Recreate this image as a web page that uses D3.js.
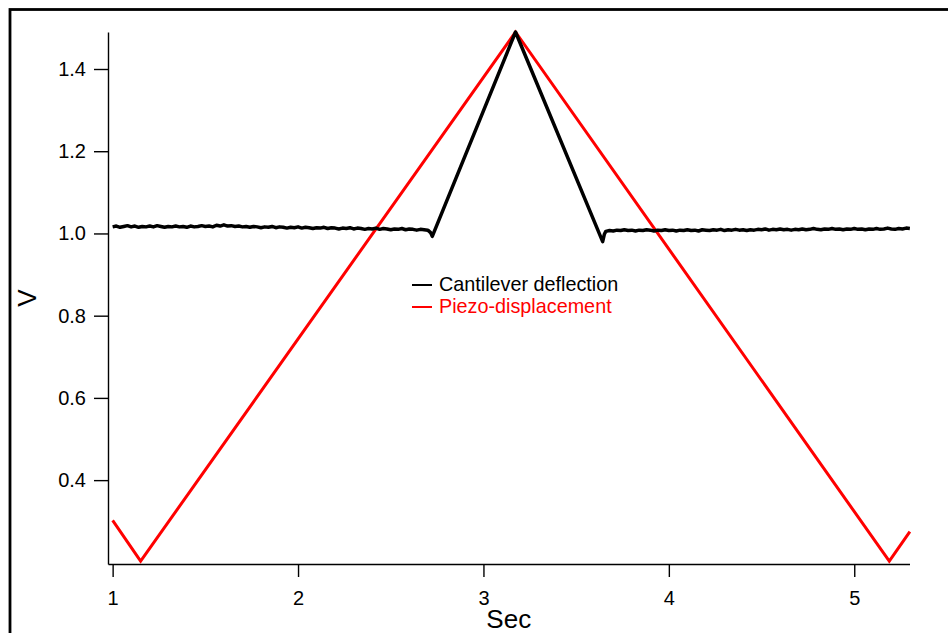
<!DOCTYPE html>
<html>
<head>
<meta charset="utf-8">
<script src="https://cdn.jsdelivr.net/npm/d3@7"></script>
<style>
  html, body { margin: 0; padding: 0; background: #fff; }
  svg { display: block; }
</style>
</head>
<body>
<svg id="chart"></svg>
<script>
// Data
let xTicks = [1, 2, 3, 4, 5];
let yTicks = [0.4, 0.6, 0.8, 1.0, 1.2, 1.4];

let seriesNames = ["Cantilever deflection", "Piezo-displacement"];

// piezo ramp: corners of the triangle wave [sec, V]
let piezo = [
  [1.000, 0.302], [1.151, 0.203], [3.173, 1.490], [5.189, 0.203], [5.300, 0.275]
];

// cantilever deflection: flat noisy part before contact
let deflectionBefore = [
  [1.00, 1.016], [1.02, 1.018], [1.04, 1.015], [1.06, 1.017], [1.08, 1.019],
  [1.10, 1.016], [1.12, 1.018], [1.14, 1.015], [1.16, 1.017], [1.18, 1.016],
  [1.20, 1.018], [1.22, 1.016], [1.24, 1.019], [1.26, 1.017], [1.28, 1.015],
  [1.30, 1.017], [1.32, 1.016], [1.34, 1.018], [1.36, 1.016], [1.38, 1.017],
  [1.40, 1.015], [1.42, 1.018], [1.44, 1.016], [1.46, 1.017], [1.48, 1.019],
  [1.50, 1.017], [1.52, 1.018], [1.54, 1.016], [1.56, 1.020], [1.58, 1.018],
  [1.60, 1.021], [1.62, 1.018], [1.64, 1.019], [1.66, 1.017], [1.68, 1.018],
  [1.70, 1.016], [1.72, 1.017], [1.74, 1.015], [1.76, 1.017], [1.78, 1.016],
  [1.80, 1.014], [1.82, 1.016], [1.84, 1.015], [1.86, 1.017], [1.88, 1.014],
  [1.90, 1.016], [1.92, 1.015], [1.94, 1.013], [1.96, 1.015], [1.98, 1.014],
  [2.00, 1.016], [2.02, 1.013], [2.04, 1.015], [2.06, 1.014], [2.08, 1.012],
  [2.10, 1.014], [2.12, 1.013], [2.14, 1.015], [2.16, 1.012], [2.18, 1.014],
  [2.20, 1.013], [2.22, 1.011], [2.24, 1.013], [2.26, 1.012], [2.28, 1.014],
  [2.30, 1.011], [2.32, 1.013], [2.34, 1.012], [2.36, 1.010], [2.38, 1.012],
  [2.40, 1.011], [2.42, 1.013], [2.44, 1.010], [2.46, 1.012], [2.48, 1.011],
  [2.50, 1.009], [2.52, 1.011], [2.54, 1.010], [2.56, 1.012], [2.58, 1.009],
  [2.60, 1.011], [2.62, 1.010], [2.64, 1.008], [2.66, 1.010], [2.68, 1.009],
  [2.70, 1.008], [2.715, 1.002], [2.724, 0.993]
];

// contact: up to the turning point and back down
let deflectionContact = [
  [2.724, 0.993], [3.173, 1.490], [3.643, 0.980]
];

// flat noisy part after release
let deflectionAfter = [
  [3.643, 0.980], [3.652, 0.998], [3.66, 1.005], [3.68, 1.007],
  [3.70, 1.006], [3.72, 1.008], [3.74, 1.007], [3.76, 1.009], [3.78, 1.007],
  [3.80, 1.008], [3.82, 1.006], [3.84, 1.008], [3.86, 1.007], [3.88, 1.009],
  [3.90, 1.008], [3.92, 1.006], [3.94, 1.008], [3.96, 1.007], [3.98, 1.009],
  [4.00, 1.007], [4.02, 1.008], [4.04, 1.006], [4.06, 1.008], [4.08, 1.007],
  [4.10, 1.009], [4.12, 1.007], [4.14, 1.008], [4.16, 1.006], [4.18, 1.009],
  [4.20, 1.008], [4.22, 1.007], [4.24, 1.009], [4.26, 1.008], [4.28, 1.010],
  [4.30, 1.007], [4.32, 1.009], [4.34, 1.008], [4.36, 1.010], [4.38, 1.008],
  [4.40, 1.009], [4.42, 1.007], [4.44, 1.009], [4.46, 1.008], [4.48, 1.010],
  [4.50, 1.009], [4.52, 1.011], [4.54, 1.008], [4.56, 1.010], [4.58, 1.009],
  [4.60, 1.011], [4.62, 1.009], [4.64, 1.010], [4.66, 1.008], [4.68, 1.010],
  [4.70, 1.009], [4.72, 1.011], [4.74, 1.009], [4.76, 1.010], [4.78, 1.012],
  [4.80, 1.010], [4.82, 1.009], [4.84, 1.011], [4.86, 1.010], [4.88, 1.012],
  [4.90, 1.010], [4.92, 1.011], [4.94, 1.009], [4.96, 1.011], [4.98, 1.010],
  [5.00, 1.012], [5.02, 1.010], [5.04, 1.011], [5.06, 1.009], [5.08, 1.011],
  [5.10, 1.010], [5.12, 1.012], [5.14, 1.010], [5.16, 1.011], [5.18, 1.013],
  [5.20, 1.011], [5.22, 1.010], [5.24, 1.012], [5.26, 1.011], [5.28, 1.013],
  [5.30, 1.012]
];

let deflection = deflectionBefore
  .concat(deflectionContact.slice(1))
  .concat(deflectionAfter.slice(1));

// Layout
let width = 948, height = 633;
let margin = { top: 32, right: 38.5, bottom: 69, left: 108 };
let font = "'Liberation Sans', Arial, sans-serif";

let svg = d3.select("#chart")
  .attr("width", width)
  .attr("height", height)
  .attr("viewBox", [0, 0, width, height]);

// Outer frame (its right/bottom edges run off the page)
svg.append("rect")
  .attr("x", 10)
  .attr("y", 9.5)
  .attr("width", 1200)
  .attr("height", 900)
  .attr("fill", "none")
  .attr("stroke", "#000")
  .attr("stroke-width", 2.8);

// Scales
let xScale = d3.scaleLinear()
  .domain([0.975, 5.298])
  .range([margin.left, width - margin.right]);

let yScale = d3.scaleLinear()
  .domain([0.196, 1.49])
  .range([height - margin.bottom, margin.top]);

// Axes
let xAxis = d3.axisBottom(xScale)
  .tickValues(xTicks)
  .tickFormat(d3.format("d"))
  .tickSize(13)
  .tickSizeOuter(0)
  .tickPadding(14);

let yAxis = d3.axisLeft(yScale)
  .tickValues(yTicks)
  .tickFormat(d3.format(".1f"))
  .tickSize(14)
  .tickSizeOuter(0)
  .tickPadding(8);

let gx = svg.append("g")
  .attr("transform", `translate(0,${height - margin.bottom})`)
  .call(xAxis);

let gy = svg.append("g")
  .attr("transform", `translate(${margin.left},0)`)
  .call(yAxis);

[gx, gy].forEach(g => {
  g.attr("font-family", font).attr("font-size", 20);
  g.selectAll("text").attr("fill", "#000");
  g.selectAll(".tick line").attr("stroke", "#000").attr("stroke-width", 1.4);
  g.select("path.domain").attr("stroke", "#000").attr("stroke-width", 1.4);
});

// Axis titles
svg.append("text")
  .attr("x", (margin.left + width - margin.right) / 2)
  .attr("y", 628)
  .attr("text-anchor", "middle")
  .style("font-family", font)
  .style("font-size", "26px")
  .text("Sec");

svg.append("text")
  .attr("transform", "rotate(-90)")
  .attr("x", -(margin.top + height - margin.bottom) / 2)
  .attr("y", 36)
  .attr("text-anchor", "middle")
  .style("font-family", font)
  .style("font-size", "26px")
  .text("V");

// Lines
let line = d3.line()
  .x(d => xScale(d[0]))
  .y(d => yScale(d[1]));

svg.append("path")
  .datum(piezo)
  .attr("fill", "none")
  .attr("stroke", "#ff0000")
  .attr("stroke-width", 3)
  .attr("stroke-linejoin", "miter")
  .attr("d", line);

svg.append("path")
  .datum(deflection)
  .attr("fill", "none")
  .attr("stroke", "#000")
  .attr("stroke-width", 3.5)
  .attr("stroke-linejoin", "round")
  .attr("d", line);

// Legend
let legendColors = ["#000", "#ff0000"];
let legend = svg.append("g")
  .attr("transform", "translate(412,291)");

seriesNames.forEach((name, i) => {
  let row = legend.append("g").attr("transform", `translate(0,${i * 22})`);
  row.append("line")
    .attr("x1", 0).attr("x2", 20)
    .attr("y1", -6).attr("y2", -6)
    .attr("stroke", legendColors[i])
    .attr("stroke-width", 2);
  row.append("text")
    .attr("x", 27)
    .attr("y", 0)
    .style("font-family", font)
    .style("font-size", "19.8px")
    .attr("fill", legendColors[i])
    .text(name);
});
</script>
</body>
</html>
